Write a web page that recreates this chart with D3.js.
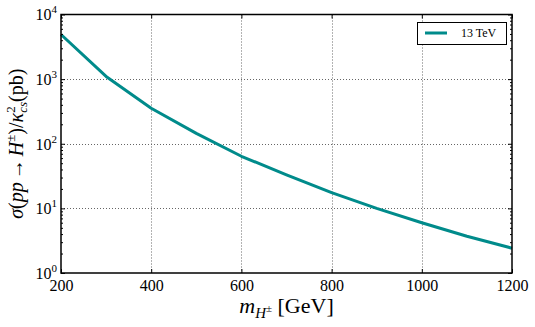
<!DOCTYPE html>
<html>
<head>
<meta charset="utf-8">
<script src="https://cdn.jsdelivr.net/npm/d3@7"></script>
<style>
  body { margin: 0; background: #fff; }
  svg { display: block; }
  text { font-family: "Liberation Serif", "DejaVu Serif", serif; fill: #000; }
</style>
</head>
<body>
<svg></svg>
<script>
var width = 535, height = 327;
var padLeft = 61, padRight = 512, padTop = 14.5, padBottom = 273;

// data
var masses = [200, 300, 400, 500, 600, 700, 800, 900, 1000, 1100, 1200];
var xsec13 = [4900, 1100, 355, 145, 64, 33, 17.5, 10, 6.0, 3.7, 2.42];
var xTicks = [200, 400, 600, 800, 1000, 1200];
var yTicks = [1, 10, 100, 1000, 10000];
var yExp = ["0", "1", "2", "3", "4"];
var legendLabel = "13 TeV";

var lineColor = "#008b8b";

var xScale = d3.scaleLinear().domain([200, 1200]).range([padLeft, padRight]);
var yScale = d3.scaleLog().domain([1, 10000]).range([padBottom, padTop]);

var minorTicks = [];
yTicks.slice(0, -1).forEach(function (t) {
  for (var k = 2; k <= 9; k++) minorTicks.push(t * k);
});

var svg = d3.select("svg").attr("width", width).attr("height", height);

// grid
svg.append("g")
  .selectAll("line")
  .data(xTicks.slice(1, -1))
  .enter()
  .append("line")
  .attr("x1", d => Math.round(xScale(d)) + 0.5)
  .attr("x2", d => Math.round(xScale(d)) + 0.5)
  .attr("y1", padTop).attr("y2", padBottom)
  .attr("stroke", "#666").attr("stroke-width", 1).attr("stroke-dasharray", "1,2");

svg.append("g")
  .selectAll("line")
  .data(yTicks.slice(1, -1))
  .enter()
  .append("line")
  .attr("y1", d => Math.round(yScale(d)) + 0.5)
  .attr("y2", d => Math.round(yScale(d)) + 0.5)
  .attr("x1", padLeft).attr("x2", padRight)
  .attr("stroke", "#666").attr("stroke-width", 1).attr("stroke-dasharray", "1,2");

// the curve
var line = d3.line()
  .x((d, i) => xScale(masses[i]))
  .y(d => yScale(d));

svg.append("path")
  .datum(xsec13)
  .attr("d", line)
  .attr("fill", "none")
  .attr("stroke", lineColor)
  .attr("stroke-width", 3)
  .attr("stroke-linejoin", "round");

// axes, ticks pointing inwards
var xAxis = d3.axisBottom(xScale).tickValues(xTicks).tickSizeInner(-4).tickSizeOuter(0)
  .tickPadding(7).tickFormat(d3.format("d"));
var gx = svg.append("g")
  .attr("transform", "translate(0," + padBottom + ")")
  .call(xAxis);
gx.selectAll("text").style("font-size", "16px").style("font-family", "Liberation Serif");

svg.append("g")
  .attr("transform", "translate(0," + padTop + ")")
  .call(d3.axisTop(xScale).tickValues(xTicks).tickSizeInner(-4).tickSizeOuter(0).tickFormat(""));

var gy = svg.append("g")
  .attr("transform", "translate(" + padLeft + ",0)")
  .call(d3.axisLeft(yScale).tickValues(yTicks).tickSizeInner(-4).tickSizeOuter(0).tickFormat(""));

gy.selectAll(".tick text").remove();
gy.selectAll(".tick")
  .append("text")
  .attr("x", -4)
  .attr("dy", "0.34em")
  .attr("text-anchor", "end")
  .style("font-size", "16px")
  .style("font-family", "Liberation Serif")
  .each(function (d, i) {
    var t = d3.select(this);
    t.append("tspan").text("10");
    t.append("tspan").attr("dy", -7).style("font-size", "11px").text(yExp[i]);
  });

svg.append("g")
  .attr("transform", "translate(" + padLeft + ",0)")
  .call(d3.axisLeft(yScale).tickValues(minorTicks).tickSizeInner(-2).tickSizeOuter(0).tickFormat(""));

svg.append("g")
  .attr("transform", "translate(" + padRight + ",0)")
  .call(d3.axisRight(yScale).tickValues(yTicks).tickSizeInner(-4).tickSizeOuter(0).tickFormat(""));

svg.append("g")
  .attr("transform", "translate(" + padRight + ",0)")
  .call(d3.axisRight(yScale).tickValues(minorTicks).tickSizeInner(-2).tickSizeOuter(0).tickFormat(""));

svg.selectAll(".domain").remove();
svg.selectAll(".tick line").attr("stroke", "#000").attr("stroke-width", 1);

// frame
svg.append("rect")
  .attr("x", padLeft).attr("y", padTop)
  .attr("width", padRight - padLeft).attr("height", padBottom - padTop)
  .attr("fill", "none").attr("stroke", "#000").attr("stroke-width", 1.5);

// axis labels
var xl = svg.append("text")
  .attr("x", (padLeft + padRight) / 2)
  .attr("y", 313)
  .attr("text-anchor", "middle")
  .style("font-size", "22px");
xl.append("tspan").style("font-style", "italic").text("m");
xl.append("tspan").attr("dy", 5).style("font-size", "15px").style("font-style", "italic").text("H");
xl.append("tspan").attr("dy", -6).style("font-size", "11px").text("±");
xl.append("tspan").attr("dy", 1).text(" [GeV]");

var yl = svg.append("text")
  .attr("transform", "translate(22.5," + ((padTop + padBottom) / 2) + ") rotate(-90)")
  .attr("text-anchor", "middle")
  .style("font-size", "20px");
yl.append("tspan").style("font-style", "italic").text("σ");
yl.append("tspan").text("(");
yl.append("tspan").style("font-style", "italic").text("pp");
yl.append("tspan").attr("dx", 3).text("→");
yl.append("tspan").attr("dx", 3).style("font-style", "italic").text("H");
yl.append("tspan").attr("dy", -8).style("font-size", "13px").text("±");
yl.append("tspan").attr("dy", 8).text(")/");
yl.append("tspan").style("font-style", "italic").text("κ");
yl.append("tspan").attr("dy", -8).style("font-size", "13px").text("2");
yl.append("tspan").attr("dx", -6.5).attr("dy", 12).style("font-size", "13px").style("font-style", "italic").text("cs");
yl.append("tspan").attr("dy", -4).text("(pb)");

// legend
var lg = svg.append("g");
lg.append("rect")
  .attr("x", 417.5).attr("y", 22.5).attr("width", 89).attr("height", 22)
  .attr("fill", "#fff").attr("stroke", "#000").attr("stroke-width", 1);
lg.append("line")
  .attr("x1", 425).attr("x2", 447).attr("y1", 33).attr("y2", 33)
  .attr("stroke", lineColor).attr("stroke-width", 3);
lg.append("text")
  .attr("x", 461).attr("y", 37)
  .style("font-size", "12px")
  .text(legendLabel);
</script>
</body>
</html>
